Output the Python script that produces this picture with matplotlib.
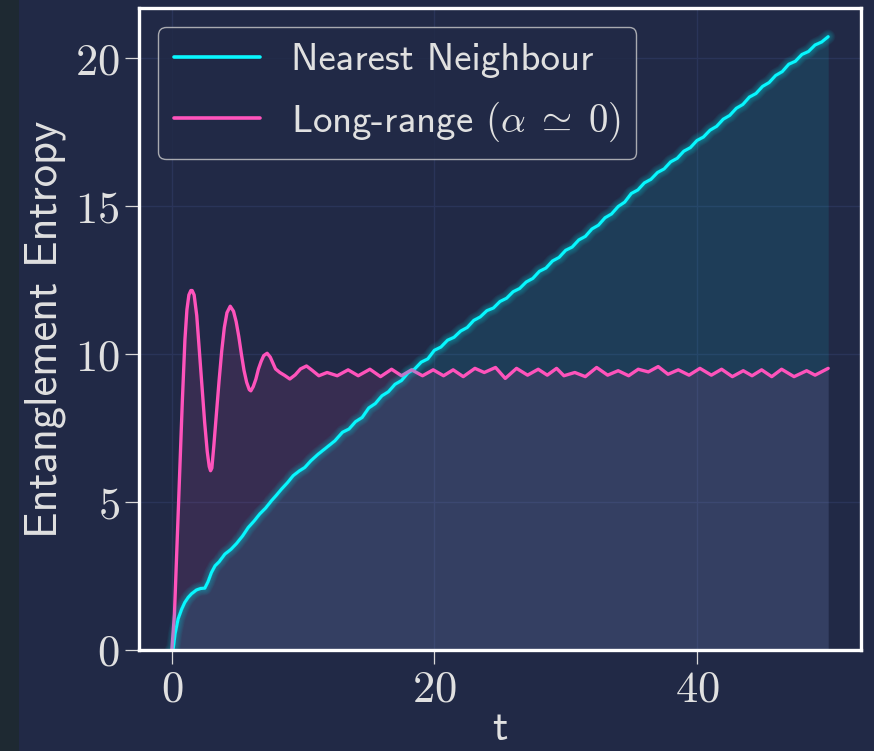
import matplotlib
matplotlib.use("Agg")
import matplotlib.pyplot as plt
from matplotlib.ticker import FuncFormatter, FixedLocator
from matplotlib.patches import Rectangle

# ---------------- data ----------------
t_nn = [0.0, 0.1, 0.25, 0.48, 0.75, 0.99, 1.25, 1.5, 1.88, 2.2, 2.51, 2.75, 3.02, 3.3,
        3.6, 4.04, 4.5, 4.93, 5.4, 5.82, 6.25, 6.7, 7.15, 7.6, 8.0, 8.36, 8.8, 9.24,
        9.7, 10.13, 10.6, 11.15, 11.8, 12.42,
        13.0, 13.5, 14.0, 14.5, 15.0, 15.5, 16.0, 16.5, 17.0, 17.5, 18.0, 18.5, 19.0,
        19.5, 20.0, 20.5, 21.0, 21.5, 22.0, 22.5, 23.0, 23.5, 24.0, 24.5, 25.0, 25.5,
        26.0, 26.5, 27.0, 27.5, 28.0, 28.5, 29.0, 29.5, 30.0, 30.5, 31.0, 31.5, 32.0,
        32.5, 33.0, 33.5, 34.0, 34.5, 35.0, 35.5, 36.0, 36.5, 37.0, 37.5, 38.0, 38.5,
        39.0, 39.5, 40.0, 40.5, 41.0, 41.5, 42.0, 42.5, 43.0, 43.5, 44.0, 44.5, 45.0,
        45.5, 46.0, 46.5, 47.0, 47.5, 48.0, 48.5, 49.0, 49.5, 50.0]
s_nn = [0.0, 0.02, 0.55, 1.05, 1.38, 1.61, 1.78, 1.9, 2.03, 2.08, 2.09, 2.3, 2.62, 2.85,
        2.98, 3.24, 3.4, 3.6, 3.86, 4.14, 4.35, 4.6, 4.8, 5.05, 5.25, 5.44, 5.65, 5.89,
        6.05, 6.17, 6.4, 6.62, 6.85, 7.07,
        7.36, 7.47, 7.72, 7.86, 8.18, 8.33, 8.59, 8.73, 8.98, 9.11, 9.37, 9.5, 9.73,
        9.84, 10.13, 10.24, 10.47, 10.57, 10.78, 10.9, 11.14, 11.26, 11.47, 11.56, 11.78,
        11.89, 12.11, 12.22, 12.44, 12.56, 12.8, 12.91, 13.15, 13.27, 13.51, 13.62,
        13.86, 13.98, 14.23, 14.36, 14.61, 14.74, 14.99, 15.14, 15.43, 15.55, 15.79,
        15.91, 16.14, 16.26, 16.5, 16.62, 16.86, 16.98, 17.22, 17.34, 17.57, 17.7,
        17.94, 18.07, 18.31, 18.44, 18.69, 18.81, 19.05, 19.18, 19.42, 19.55, 19.8,
        19.9, 20.13, 20.23, 20.45, 20.55, 20.73]

t_lr = [0.0, 0.2, 0.4, 0.6, 0.8, 1.0, 1.15, 1.3, 1.45, 1.55, 1.7, 1.9, 2.1, 2.3, 2.5,
        2.7, 2.85, 2.95, 3.05, 3.2, 3.4, 3.6, 3.8, 4.0, 4.2, 4.45, 4.7, 4.9, 5.1, 5.3,
        5.5, 5.7, 5.9, 6.02, 6.2, 6.4, 6.6, 6.8, 7.0, 7.26, 7.5, 7.7, 7.9, 8.23, 8.6,
        8.99, 9.4, 9.8, 10.26, 10.7, 11.2, 11.83, 12.6, 13.43, 14.2, 15.09, 15.9,
        16.74, 17.5, 18.26, 19.1, 19.91, 20.7, 21.43, 22.2, 23.09, 23.8, 24.66, 25.4,
        26.26, 27.1, 27.91, 28.6, 29.31, 29.87, 30.7, 31.5, 32.36, 33.2, 34.0, 34.8,
        35.53, 36.3, 37.05, 37.8, 38.58, 39.4, 40.23, 41.1, 41.88, 42.7, 43.53, 44.2,
        44.93, 45.7, 46.45, 47.4, 48.36, 49.0, 50.0]
s_lr = [0.0, 1.2, 3.6, 6.0, 8.4, 10.5, 11.5, 12.0, 12.15, 12.15, 12.0, 11.3, 10.1, 8.9,
        7.7, 6.7, 6.2, 6.06, 6.15, 6.9, 8.0, 9.1, 10.1, 10.9, 11.4, 11.62, 11.45, 11.1,
        10.6, 10.0, 9.45, 9.05, 8.8, 8.76, 8.9, 9.15, 9.5, 9.75, 9.95, 10.03, 9.9, 9.7,
        9.5, 9.38, 9.28, 9.16, 9.3, 9.5, 9.6, 9.45, 9.27, 9.38, 9.27, 9.47, 9.27, 9.49,
        9.24, 9.49, 9.27, 9.47, 9.27, 9.47, 9.27, 9.47, 9.24, 9.52, 9.38, 9.55, 9.18,
        9.52, 9.29, 9.49, 9.29, 9.52, 9.27, 9.38, 9.24, 9.55, 9.29, 9.44, 9.27, 9.49,
        9.4, 9.58, 9.32, 9.47, 9.29, 9.52, 9.29, 9.49, 9.24, 9.44, 9.27, 9.47, 9.24,
        9.49, 9.24, 9.44, 9.29, 9.52]

labels = ["Nearest Neighbour", r"Long-range $(\alpha\;\simeq\;0)$"]
x_ticks = [0, 20, 40]
y_ticks = [0, 5, 10, 15, 20]

# ---------------- style ----------------
BG = "#212946"
CYAN = "#08F7FE"
PINK = "#FE53BB"
GRID = "#2A3459"
TXT = "0.88"

plt.rcParams["mathtext.fontset"] = "cm"
plt.rcParams["font.family"] = ["cmss10", "DejaVu Sans"]

fig = plt.figure(figsize=(8.74, 7.51), dpi=100, facecolor=BG)
fig.add_artist(Rectangle((0, 0), 19 / 874, 1, transform=fig.transFigure,
                         facecolor="#1e2932", edgecolor="none", zorder=0))

ax = fig.add_axes([139 / 874, 101 / 751, 722 / 874, 642 / 751])
ax.set_facecolor(BG)

ax.fill_between(t_nn, s_nn, 0, color=CYAN, alpha=0.1, linewidth=0, zorder=1)
ax.fill_between(t_lr, s_lr, 0, color=PINK, alpha=0.1, linewidth=0, zorder=1)

l1, = ax.plot(t_nn, s_nn, color=CYAN, lw=2.3, label=labels[0], zorder=3,
              solid_capstyle="round", solid_joinstyle="round")
l2, = ax.plot(t_lr, s_lr, color=PINK, lw=2.4, label=labels[1], zorder=3,
              solid_capstyle="round", solid_joinstyle="round")
# glow on the nearest-neighbour line
for n in range(1, 10):
    ax.plot(t_nn, s_nn, color=CYAN, lw=2.3 + 0.9 * n, alpha=0.035, zorder=4,
            solid_capstyle="round", solid_joinstyle="round")

ax.set_xlim(-2.5, 52.5)
ax.set_ylim(0, 21.7)
ax.xaxis.set_major_locator(FixedLocator(x_ticks))
ax.yaxis.set_major_locator(FixedLocator(y_ticks))
fmt = FuncFormatter(lambda v, p: f"${v:g}$")
ax.xaxis.set_major_formatter(fmt)
ax.yaxis.set_major_formatter(fmt)

ax.grid(True, color=GRID, linewidth=1.0, zorder=0)
ax.set_axisbelow(True)
for sp in ax.spines.values():
    sp.set_color("white")
    sp.set_linewidth(2.4)
    sp.set_zorder(6)

ax.tick_params(axis="both", which="major", direction="out", length=10, width=0.9,
               color="0.85", labelcolor=TXT, labelsize=32, pad=4)

ax.set_xlabel("t", color=TXT, fontsize=31, labelpad=0)
ax.set_ylabel("Entanglement Entropy", color=TXT, fontsize=32, labelpad=6)

leg = ax.legend(handles=[l1, l2], loc="upper left", fontsize=28, frameon=True,
                facecolor=BG, edgecolor="0.8", framealpha=0.8, fancybox=True,
                handlelength=2.2, handletextpad=0.8, labelspacing=0.55,
                borderaxespad=0.5)
for txt in leg.get_texts():
    txt.set_color(TXT)
for line in leg.get_lines():
    line.set_linewidth(2.6)

fig.savefig("out.png", dpi=100, facecolor=BG)
